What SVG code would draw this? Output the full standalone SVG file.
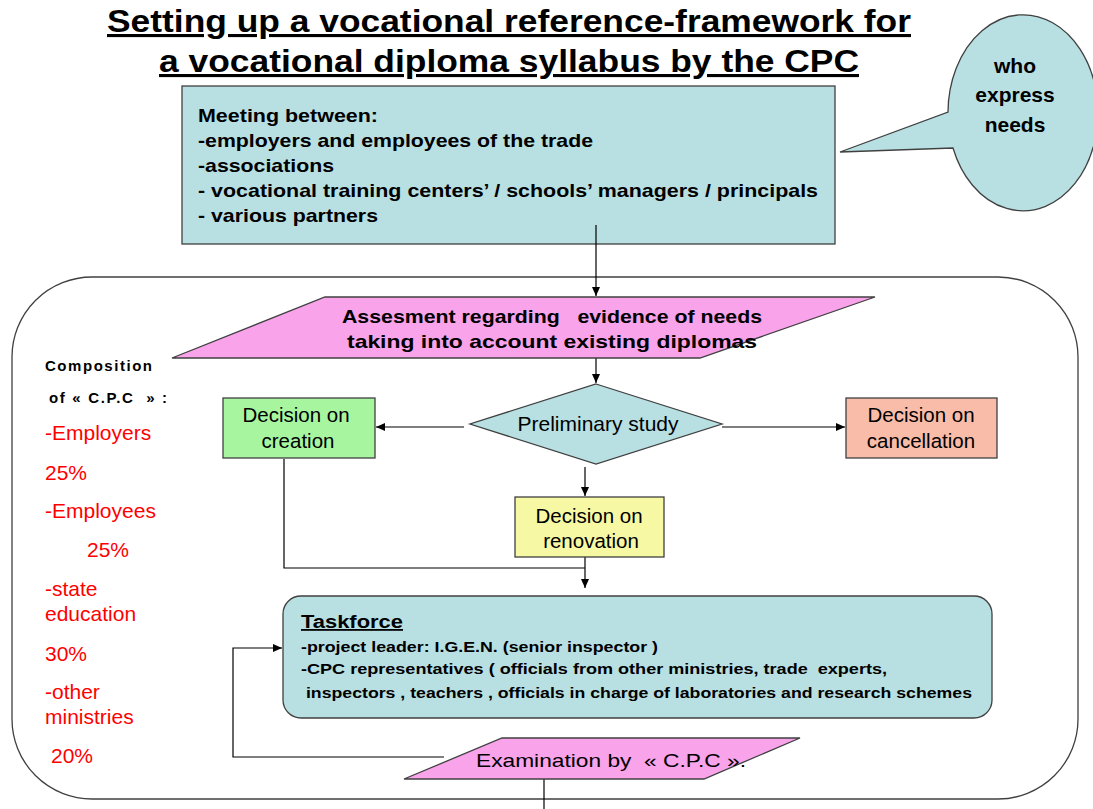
<svg xmlns="http://www.w3.org/2000/svg" width="1093" height="809" viewBox="0 0 1093 809">
<style>
.sh{stroke:#404040;stroke-width:1.3}
.ln{fill:none;stroke:#000;stroke-width:1.2}
.t{font-family:"Liberation Sans",Arial,sans-serif;fill:#000;white-space:pre}
.b{font-weight:bold}
.red{font-family:"Liberation Sans",Arial,sans-serif;fill:#ff0000;font-size:21px}
.teal{fill:#b8dfe2}
</style>
<defs>
<marker id="ah" markerWidth="10" markerHeight="10" refX="9" refY="5" orient="auto" markerUnits="userSpaceOnUse">
<path d="M0,1 L9,5 L0,9 Z" fill="#000"/>
</marker>
</defs>
<rect width="1093" height="809" fill="#fff"/>

<g id="title">
<text class="t b" x="509" y="32" font-size="31" text-anchor="middle" textLength="804" lengthAdjust="spacingAndGlyphs" text-decoration="underline">Setting up a vocational reference-framework for</text>
<text class="t b" x="509" y="72" font-size="31" text-anchor="middle" textLength="700" lengthAdjust="spacingAndGlyphs" text-decoration="underline">a vocational diploma syllabus by the CPC</text>
</g>

<g id="frame">
<rect x="12" y="277" width="1066" height="522" rx="80" ry="80" fill="none" stroke="#404040" stroke-width="1.3"/>
</g>

<g id="callout">
<path class="sh teal" d="M840,152 L948,112 A75,98 0 1 1 953,148 Z"/>
<text class="t b" font-size="21" text-anchor="middle"><tspan x="1015" y="73">who</tspan><tspan x="1015" y="102">express</tspan><tspan x="1015" y="132">needs</tspan></text>
</g>

<g id="meeting">
<rect class="sh teal" x="182" y="86" width="653" height="158"/>
<text class="t b" font-size="19"><tspan x="198" y="122" textLength="180" lengthAdjust="spacingAndGlyphs">Meeting between:</tspan><tspan x="198" y="147" textLength="395" lengthAdjust="spacingAndGlyphs">-employers and employees of the trade</tspan><tspan x="198" y="172" textLength="136" lengthAdjust="spacingAndGlyphs">-associations</tspan><tspan x="198" y="197" textLength="620" lengthAdjust="spacingAndGlyphs">- vocational training centers’ / schools’ managers / principals</tspan><tspan x="198" y="222" textLength="180" lengthAdjust="spacingAndGlyphs">- various partners</tspan></text>
</g>

<g id="connectors">
<line class="ln" x1="596" y1="225" x2="596" y2="296" marker-end="url(#ah)"/>
<line class="ln" x1="596" y1="358" x2="596" y2="383" marker-end="url(#ah)"/>
<line class="ln" x1="464" y1="427" x2="376" y2="427" marker-end="url(#ah)"/>
<line class="ln" x1="722" y1="427" x2="845" y2="427" marker-end="url(#ah)"/>
<line class="ln" x1="585" y1="467" x2="585" y2="496" marker-end="url(#ah)"/>
<polyline class="ln" points="284,459 284,568 585,568"/>
<line class="ln" x1="585" y1="557" x2="585" y2="588" marker-end="url(#ah)"/>
<polyline class="ln" points="444,757 233,757 233,648 282,648" marker-end="url(#ah)"/>
<line class="ln" x1="544" y1="779" x2="544" y2="809"/>
</g>

<g id="assessment">
<polygon class="sh" fill="#f9a3ea" points="325,297 875,297 700,358 172,358"/>
<text class="t b" font-size="19" text-anchor="middle"><tspan x="552" y="323" textLength="420" lengthAdjust="spacingAndGlyphs">Assesment regarding   evidence of needs</tspan><tspan x="552" y="348" textLength="410" lengthAdjust="spacingAndGlyphs">taking into account existing diplomas</tspan></text>
</g>

<g id="composition">
<text class="t b" font-size="15" x="45" y="371" textLength="107" lengthAdjust="spacing">Composition</text>
<text class="t b" font-size="15" x="49" y="403" textLength="118" lengthAdjust="spacing">of « C.P.C  » :</text>
<text class="red" x="45" y="440">-Employers</text>
<text class="red" x="45" y="480">25%</text>
<text class="red" x="45" y="518">-Employees</text>
<text class="red" x="87" y="557">25%</text>
<text class="red" x="45" y="596">-state</text>
<text class="red" x="45" y="621">education</text>
<text class="red" x="45" y="661">30%</text>
<text class="red" x="45" y="699">-other</text>
<text class="red" x="45" y="724">ministries</text>
<text class="red" x="51" y="763">20%</text>
</g>

<g id="prelim">
<polygon class="sh teal" points="596,384 722,424 596,464 470,424"/>
<text class="t" font-size="21" x="598" y="431" text-anchor="middle">Preliminary study</text>
</g>

<g id="creation">
<rect class="sh" fill="#a8f5a0" x="223" y="398" width="152" height="60"/>
<text class="t" font-size="20.5" text-anchor="middle"><tspan x="296" y="422">Decision on</tspan><tspan x="298" y="448">creation</tspan></text>
</g>

<g id="cancellation">
<rect class="sh" fill="#f8bca8" x="846" y="398" width="151" height="60"/>
<text class="t" font-size="20.5" text-anchor="middle"><tspan x="921" y="422">Decision on</tspan><tspan x="921" y="448">cancellation</tspan></text>
</g>

<g id="renovation">
<rect class="sh" fill="#f6f8a4" x="515" y="497" width="149" height="60"/>
<text class="t" font-size="20.5" text-anchor="middle"><tspan x="589" y="523">Decision on</tspan><tspan x="591" y="548">renovation</tspan></text>
</g>

<g id="taskforce">
<rect class="sh teal" x="283" y="596" width="709" height="122" rx="18" ry="18"/>
<text class="t b" font-size="18" x="301" y="628" text-decoration="underline" textLength="102" lengthAdjust="spacingAndGlyphs">Taskforce</text>
<text class="t b" font-size="15"><tspan x="301" y="652" textLength="357" lengthAdjust="spacingAndGlyphs">-project leader: I.G.E.N. (senior inspector )</tspan><tspan x="301" y="674" textLength="586" lengthAdjust="spacingAndGlyphs">-CPC representatives ( officials from other ministries, trade  experts,</tspan><tspan x="301" y="698" textLength="671" lengthAdjust="spacingAndGlyphs"> inspectors , teachers , officials in charge of laboratories and research schemes</tspan></text>
</g>

<g id="examination">
<polygon class="sh" fill="#f9a3ea" points="502,738 800,738 704,779 404,779"/>
<text class="t" font-size="19" x="476" y="767" textLength="270" lengthAdjust="spacingAndGlyphs">Examination by  « C.P.C ».</text>
</g>
</svg>
